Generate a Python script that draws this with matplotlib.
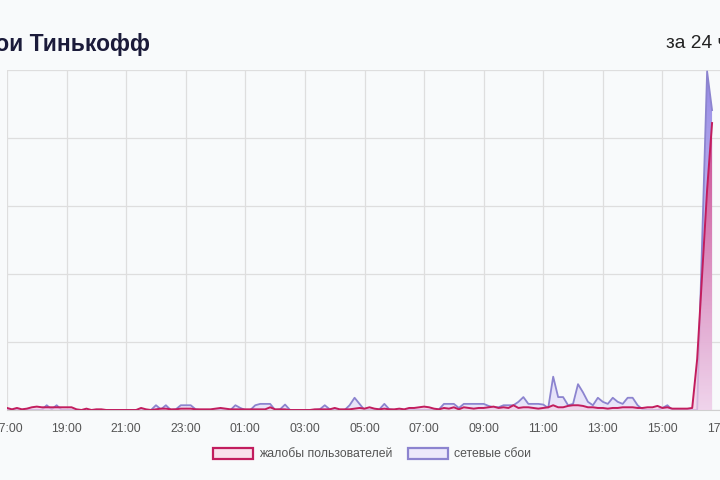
import matplotlib
matplotlib.use("Agg")
import matplotlib.pyplot as plt
import numpy as np
from matplotlib.patches import Patch
from matplotlib.colors import LinearSegmentedColormap

# ---- data (10-minute steps starting 17:00) ----
complaints = [3,1,3,1,2,4,5,4,4,4,4,4,4,4,1,0,2,0,1,1,0,
              0,0,0,0,0,0,
              3,1,0,1,2,2,1,1,2,2,2,1,1,1,1,2,3,2,1,1,1,
              1,1,1,1,1,4,1,1,1,
              0,0,0,0,0,1,1,1,1,3,1,1,1,
              2,3,2,4,2,1,2,1,1,2,1,3,3,4,5,4,2,1,3,2,4,1,4,3,2,3,3,4,5,3,
              4,3,7,3,4,4,3,2,3,4,7,4,4,6,7,7,6,4,4,3,3,2,3,3,4,4,4,3,3,4,4,6,3,4,2,2,2,2,3,
              75,200,324,422]
outages = [0,0,0,0,0,0,0,0,
           7,1,7,
           0,0,0,0,0,0,0,0,0,0,0,0,0,0,0,0,0,0,0,
           7,1,7,0,1,7,7,7,1,
           0,0,0,0,0,0,0,
           7,3,0,0,7,9,9,9,0,1,8,0,
           0,0,0,0,0,
           1,7,1,0,0,0,7,18,9,0,0,0,1,9,1,
           0,0,0,0,0,0,0,0,0,
           1,9,9,9,3,9,9,9,9,9,6,4,4,7,7,7,12,19,9,9,9,8,3,49,19,19,7,9,38,26,12,7,
           18,12,9,18,12,9,18,18,7,1,
           0,0,0,3,7,
           0,0,0,0,0,0,
           250,498,441]
tick_labels = ["17:00","19:00","21:00","23:00","01:00","03:00","05:00",
               "07:00","09:00","11:00","13:00","15:00","17:00"]
title = "Сбои Тинькофф"
period = "за 24 ч"
legend_labels = ["жалобы пользователей", "сетевые сбои"]

hours = np.arange(len(complaints)) / 6.0

BG = "#f8fafb"
RED = "#c21d5e"
PURP = "#8c84cf"

fig = plt.figure(figsize=(7.2, 4.8), dpi=100, facecolor=BG)
ax = fig.add_axes([7/720, 70/480, 715/720, 340/480], facecolor=BG)
ax.set_xlim(0, 24)
ax.set_ylim(0, 500)
ax.set_xticks(np.arange(0, 25, 2))
ax.set_xticklabels(tick_labels, fontsize=8.8, color="#555555", family="Liberation Sans")
ax.set_yticks(np.arange(0, 501, 100))
ax.set_yticklabels([])
ax.tick_params(axis="both", length=0, pad=9)
ax.grid(True, color="#dedede", linewidth=0.9)
for s in ["left", "right", "top"]:
    ax.spines[s].set_visible(False)
ax.spines["bottom"].set_color("#cfcfcf")
ax.set_axisbelow(True)

def grad_fill(y, c_bottom, c_top, z):
    poly = ax.fill_between(hours, 0, y, facecolor="none", edgecolor="none", zorder=z)
    cmap = LinearSegmentedColormap.from_list("g", [c_bottom, c_top])
    grad = np.linspace(0, 1, 256).reshape(-1, 1)
    im = ax.imshow(grad, cmap=cmap, origin="lower", aspect="auto",
                   extent=[0, 24, 0, 500], zorder=z, interpolation="bilinear")
    im.set_clip_path(poly.get_paths()[0], transform=ax.transData)
    ax.set_xlim(0, 24); ax.set_ylim(0, 500)

grad_fill(outages, (0.90, 0.88, 0.98, 0.75), (0.58, 0.53, 0.90, 1.0), 2)
ax.plot(hours, outages, color=PURP, lw=1.3, zorder=3)
grad_fill(complaints, (0.95, 0.80, 0.90, 0.70), (0.78, 0.16, 0.47, 1.0), 4)
ax.plot(hours, complaints, color=RED, lw=1.4, zorder=5)

fig.text(150/720, 1 - 44/480, title, ha="right", va="center", fontsize=16.5,
         fontweight="bold", color="#1b1b3a", family="Liberation Sans")
fig.text(666/720, 1 - 44/480, period, ha="left", va="center", fontsize=13.8,
         color="#222222", family="Liberation Sans")

handles = [Patch(facecolor="#f9e1ec", edgecolor=RED, linewidth=1.6),
           Patch(facecolor="#ece9fb", edgecolor=PURP, linewidth=1.6)]
fig.legend(handles, legend_labels, loc="center", bbox_to_anchor=(372/720, 1 - 454/480),
           ncol=2, frameon=False, handlelength=3.3, handleheight=1.0, handletextpad=0.5,
           columnspacing=1.2, prop={"family": "Liberation Sans", "size": 8.8},
           labelcolor="#555555")

fig.savefig("out.png", dpi=100, facecolor=BG)
